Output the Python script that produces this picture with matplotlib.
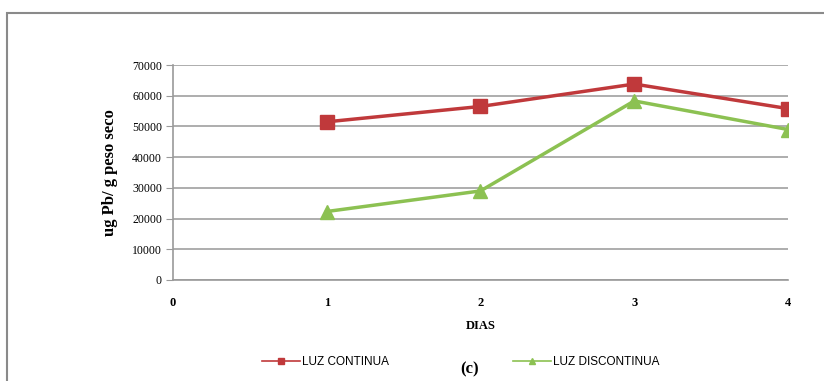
import matplotlib.pyplot as plt
from matplotlib.patches import Rectangle
from matplotlib.lines import Line2D

# Data
dias = [1, 2, 3, 4]
luz_continua = [51500, 56500, 63800, 55800]
luz_discontinua = [22300, 29000, 58300, 49000]
x_ticks = [0, 1, 2, 3, 4]
y_ticks = [0, 10000, 20000, 30000, 40000, 50000, 60000, 70000]
series_names = ['LUZ CONTINUA', 'LUZ DISCONTINUA']

red = '#c0393b'
green = '#8cc152'
grey = '#9a9a9a'

fig = plt.figure(figsize=(8.24, 3.81), dpi=100)

# outer frame
fig.patches.append(Rectangle((7 / 824, -0.05), 1.1, 1 - 13 / 381 + 0.05,
                             transform=fig.transFigure, fill=False,
                             edgecolor='#8a8a8a', linewidth=1.5))

ax = fig.add_axes([173 / 824, 1 - 280 / 381, (788 - 173) / 824, (280 - 65) / 381])

ax.plot(dias, luz_continua, color=red, linewidth=2.5, marker='s',
        markersize=10, markerfacecolor=red, markeredgecolor=red, zorder=3)
ax.plot(dias, luz_discontinua, color=green, linewidth=2.5, marker='^',
        markersize=10, markerfacecolor=green, markeredgecolor=green, zorder=3)

ax.set_xlim(0, 4)
ax.set_ylim(0, 70000)
ax.set_xticks(x_ticks)
ax.set_yticks(y_ticks)
ax.set_xticklabels([str(t) for t in x_ticks], fontfamily='Liberation Serif',
                   fontweight='bold', fontsize=9)
ax.set_yticklabels([str(t) for t in y_ticks], fontfamily='Liberation Serif',
                   fontsize=8.5)
ax.tick_params(axis='x', length=0, pad=12)
ax.tick_params(axis='y', length=5, color=grey, pad=3)
ax.grid(axis='y', color='#a0a0a0', linewidth=1.2)
ax.set_axisbelow(True)
for s in ['top', 'right']:
    ax.spines[s].set_visible(False)
for s in ['left', 'bottom']:
    ax.spines[s].set_color(grey)
    ax.spines[s].set_linewidth(1.2)

ax.set_ylabel('ug Pb/ g peso seco', fontfamily='Liberation Serif',
              fontweight='bold', fontsize=12, labelpad=10)
ax.set_xlabel('DIAS', fontfamily='Liberation Serif', fontweight='bold',
              fontsize=9, labelpad=8)

# legend: two entries placed separately
h1 = Line2D([], [], color=red, marker='s', markersize=4, linewidth=1.2)
h2 = Line2D([], [], color=green, marker='^', markersize=4, linewidth=1.2)
for h, name, x0 in [(h1, series_names[0], 262), (h2, series_names[1], 513)]:
    fig.legend([h], [name], loc='center left',
               bbox_to_anchor=(x0 / 824, 1 - 362 / 381), frameon=False,
               handlelength=3.2, handletextpad=0.2, borderpad=0,
               borderaxespad=0,
               prop={'family': 'Liberation Sans', 'size': 8.5})

fig.text(470 / 824, 1 - 369 / 381, '(c)', ha='center', va='center',
         fontfamily='Liberation Serif', fontweight='bold', fontsize=12)

fig.savefig('out.png', dpi=100)
